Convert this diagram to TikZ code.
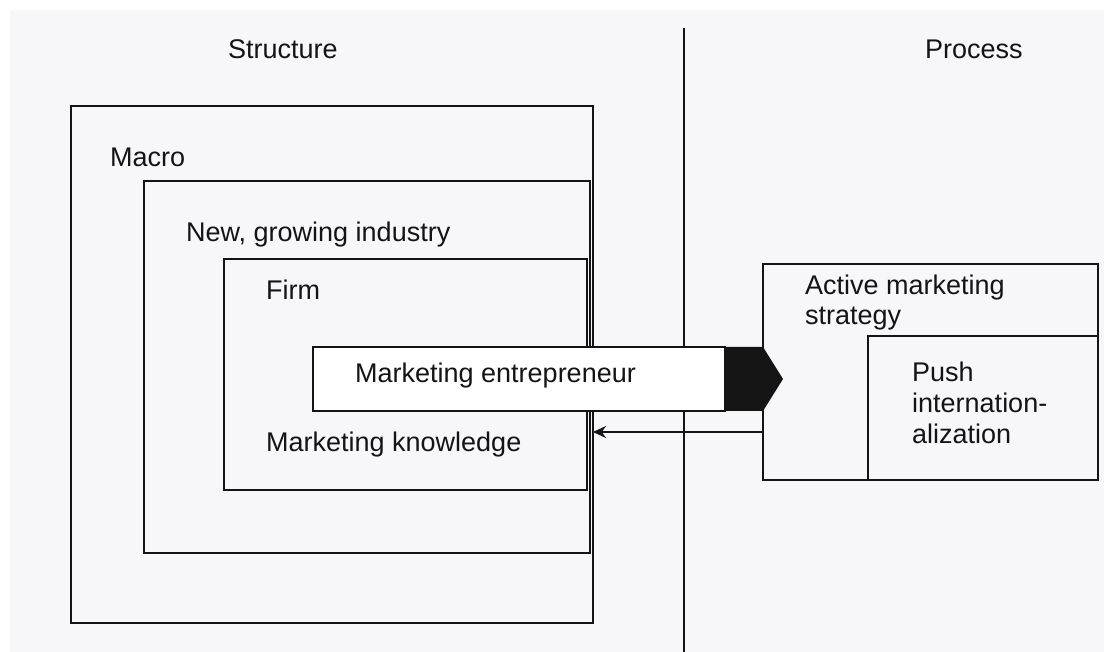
\documentclass[tikz,border=0pt]{standalone}
\usepackage{fontspec}
\setmainfont{Liberation Sans}
\usetikzlibrary{arrows.meta}
\definecolor{bgcol}{RGB}{247,247,249}
\definecolor{ink}{RGB}{20,20,20}
\begin{document}
\begin{tikzpicture}[x=1pt,y=-1pt,
  box/.style={draw=ink,line width=2pt,anchor=north west,inner sep=0pt,outer sep=0pt},
  lbl/.style={anchor=base west,inner sep=0pt,font=\fontsize{27}{31}\selectfont,text=ink}]
\useasboundingbox (0,0) rectangle (1104,652);
\fill[white] (0,0) rectangle (1104,652);
\fill[bgcol] (10,10) rectangle (1104,652);
% divider
\coordinate (dtop) at (684,28);
\coordinate (dbot) at (684,652);
\draw[ink,line width=2.8pt] (dtop) -- (dbot);
% structure boxes
\node[box,minimum width=522pt,minimum height=517pt] (macro) at (71,106) {};
\node[box,minimum width=446pt,minimum height=372pt] (industry) at (144,181) {};
\node[box,minimum width=363pt,minimum height=231pt] (firm) at (224,259) {};
% process boxes
\node[box,minimum width=335pt,minimum height=216pt] (active) at (763,264) {};
\node[box,minimum width=230pt,minimum height=144pt] (push) at (868,336) {};
% entrepreneur box
\node[box,fill=white,minimum width=412pt,minimum height=64pt] (entre) at (313,347) {};
\fill[ink] (entre.north east) -- ++(38,0) -- ++(20,32) -- ++(-20,32) -- (entre.south east) -- cycle;
% feedback arrow
\coordinate (fbstart) at (active.west |- 0,432);
\coordinate (fbend) at (macro.east |- 0,432);
\draw[ink,line width=1.4pt,-{Stealth[length=13pt,width=12pt]}] (fbstart) -- (fbend);
% labels
\node[lbl] (tstructure) at (228,59) {Structure};
\node[lbl] (tprocess) at (925,59) {Process};
\node[lbl] (tmacro) at (110,167) {Macro};
\node[lbl] (tindustry) at (186,242) {New, growing industry};
\node[lbl] (tfirm) at (266,300) {Firm};
\node[lbl] (tentre) at (355,383) {Marketing entrepreneur};
\node[lbl] (tknow) at (266,451) {Marketing knowledge};
\node[lbl] (tact1) at (805,295) {Active marketing};
\node[lbl] (tact2) at (805,325) {strategy};
\node[lbl] (tpush1) at (912,382) {Push};
\node[lbl] (tpush2) at (912,413) {internation-};
\node[lbl] (tpush3) at (912,443) {alization};
\end{tikzpicture}
\end{document}
